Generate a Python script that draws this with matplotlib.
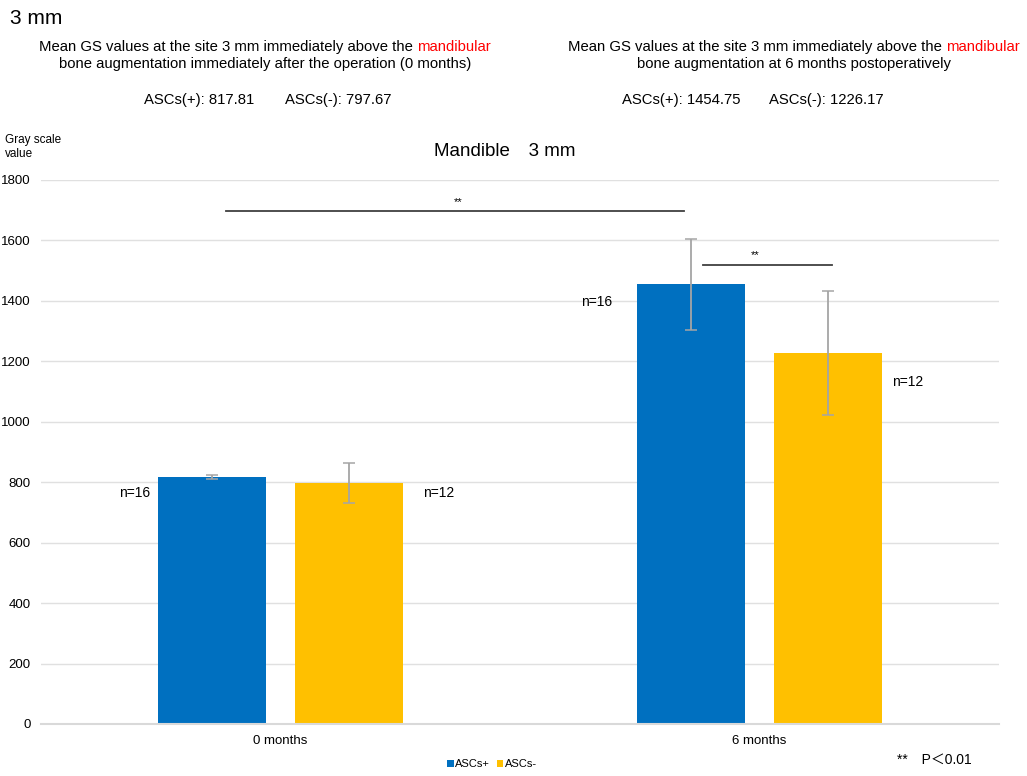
import matplotlib
matplotlib.use('Agg')
from matplotlib import pyplot as plt
import numpy as np

plt.rcParams['font.family'] = ['Liberation Sans', 'Noto Sans CJK JP', 'DejaVu Sans']

groups = ['0 months', '6 months']
seriesNames = ['ASCs+', 'ASCs-']
meanPlus = [817.81, 1454.75]
meanMinus = [797.67, 1226.17]
errPlus = [7, 150]
errMinus = [65, 205]
nPlus = ['n=16', 'n=16']
nMinus = ['n=12', 'n=12']
colors = ['#0070C0', '#FFC000']
yTicks = [0, 200, 400, 600, 800, 1000, 1200, 1400, 1600, 1800]

figure = plt.figure( figsize = ( 10.27, 7.76 ), dpi = 100 )
axes = figure.add_axes( [ 41 / 1027, 1 - 724 / 776, 958 / 1027, 544 / 776 ] )

x = np.arange( len( groups ) )
width = 0.2234
offset = 0.143
errStyle = dict( ecolor = '#A5A5A5', elinewidth = 1.3, capsize = 4, capthick = 1.1 )
axes.bar( x - offset, meanPlus, width, color = colors[ 0 ], yerr = errPlus, error_kw = errStyle, label = seriesNames[ 0 ], zorder = 2 )
axes.bar( x + offset, meanMinus, width, color = colors[ 1 ], yerr = errMinus, error_kw = errStyle, label = seriesNames[ 1 ], zorder = 2 )

axes.set_xlim( -0.5, 1.5 )
axes.set_ylim( 0, 1800 )
axes.set_yticks( yTicks )
axes.set_xticks( x )
axes.set_xticklabels( groups )
axes.tick_params( length = 0, labelsize = 9.5, colors = '#000000' )
axes.tick_params( axis = 'y', pad = 7.5 )
axes.tick_params( axis = 'x', pad = 8 )
axes.grid( axis = 'y', color = '#E0E0E0', linewidth = 1, zorder = 0 )
axes.set_axisbelow( True )
for side in [ 'top', 'right', 'left' ]:
    axes.spines[ side ].set_visible( False )
axes.spines[ 'bottom' ].set_color( '#D9D9D9' )
axes.spines[ 'bottom' ].set_linewidth( 1.5 )

# n labels
axes.text( x[ 0 ] - 0.272, 765, nPlus[ 0 ], ha = 'right', va = 'center', fontsize = 10 )
axes.text( x[ 0 ] + 0.297, 765, nMinus[ 0 ], ha = 'left', va = 'center', fontsize = 10 )
axes.text( x[ 1 ] - 0.308, 1396, nPlus[ 1 ], ha = 'right', va = 'center', fontsize = 10 )
axes.text( x[ 1 ] + 0.277, 1132, nMinus[ 1 ], ha = 'left', va = 'center', fontsize = 10 )

# significance bars
axes.plot( [ -0.114, 0.842 ], [ 1697, 1697 ], color = '#404040', linewidth = 1.3 )
axes.text( 0.37, 1712, '**', ha = 'center', va = 'bottom', fontsize = 8 )
axes.plot( [ 0.882, 1.151 ], [ 1519, 1519 ], color = '#404040', linewidth = 1.3 )
axes.text( 0.99, 1534, '**', ha = 'center', va = 'bottom', fontsize = 8 )

figure.text( 505 / 1027, 1 - 152 / 776, 'Mandible\u30003 mm', ha = 'center', va = 'center', fontsize = 13.5 )
figure.text( 5 / 1027, 1 - 147 / 776, 'Gray scale\nvalue', ha = 'left', va = 'center', fontsize = 8.5, linespacing = 1.2 )

legend = figure.legend( loc = 'center', bbox_to_anchor = ( 492 / 1027, 1 - 764 / 776 ), ncol = 2, frameon = False,
                        fontsize = 8, handlelength = 0.6, handleheight = 0.6, handletextpad = 0.15, columnspacing = 0.6,
                        borderpad = 0 )
figure.text( 897 / 1027, 1 - 760 / 776, '**\u2003P\uff1c0.01', ha = 'left', va = 'center', fontsize = 10 )

figure.text( 10 / 1027, 1 - 18 / 776, '3 mm', ha = 'left', va = 'center', fontsize = 15 )

renderer = figure.canvas.get_renderer()

def colouredLine( pieces, centerX, y, size ):
    texts = [ figure.text( 0, y, s, color = c, fontsize = size, va = 'center', ha = 'left' ) for s, c in pieces ]
    widths = [ t.get_window_extent( renderer ).width for t in texts ]
    start = centerX - sum( widths ) / 2
    for t, w in zip( texts, widths ):
        t.set_x( start / 1027 )
        start += w

fs = 10.7
panels = [ ( 265, 'bone augmentation immediately after the operation (0 months)', ( 'ASCs(+): 817.81', 'ASCs(-): 797.67' ), ( 144, 285 ) ),
           ( 794, 'bone augmentation at 6 months postoperatively', ( 'ASCs(+): 1454.75', 'ASCs(-): 1226.17' ), ( 622, 769 ) ) ]
for centerX, secondLine, values, valueX in panels:
    colouredLine( [ ( 'Mean GS values at the site 3 mm immediately above the ', 'black' ), ( 'mandibular', '#FF0000' ) ], centerX, 1 - 47 / 776, fs )
    figure.text( centerX / 1027, 1 - 64 / 776, secondLine, ha = 'center', va = 'center', fontsize = fs )
    figure.text( valueX[ 0 ] / 1027, 1 - 100 / 776, values[ 0 ], ha = 'left', va = 'center', fontsize = fs )
    figure.text( valueX[ 1 ] / 1027, 1 - 100 / 776, values[ 1 ], ha = 'left', va = 'center', fontsize = fs )

figure.savefig( 'out.png', dpi = 100 )
